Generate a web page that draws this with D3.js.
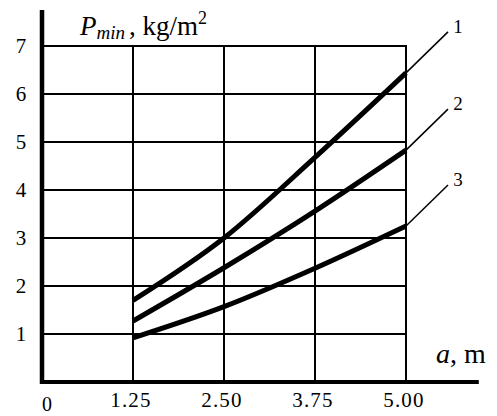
<!DOCTYPE html>
<html>
<head>
<meta charset="utf-8">
<script src="https://cdn.jsdelivr.net/npm/d3@7"></script>
<style>
	body { margin: 0; background: #fff; }
	svg text { font-family: "Liberation Serif", "DejaVu Serif", serif; fill: #000; }
</style>
</head>
<body>
<div class="container"></div>
<script>
// values
var aValues = [1.25, 2.50, 3.75, 5.00];
var curve1 = [1.70, 3.00, 4.68, 6.44];
var curve2 = [1.27, 2.38, 3.56, 4.83];
var curve3 = [0.92, 1.57, 2.37, 3.25];
var curveNames = ["1", "2", "3"];
var yTicks = [1, 2, 3, 4, 5, 6, 7];
var xTickLabels = ["1.25", "2.50", "3.75", "5.00"];

(function() {
	var width = 497, height = 416;
	var svg = d3.select(".container").append("svg")
		.attr("width", width)
		.attr("height", height);

	var x = d3.scaleLinear().domain([0, 5]).range([42, 406]);
	var y = d3.scaleLinear().domain([0, 7]).range([382, 46]);

	// grid
	svg.selectAll("line.vgrid")
		.data(aValues)
		.enter().append("line")
		.attr("class", "vgrid")
		.attr("x1", function(d) { return x(d); })
		.attr("x2", function(d) { return x(d); })
		.attr("y1", y(0))
		.attr("y2", y(7) - 1)
		.style("stroke", "#000")
		.style("stroke-width", 2);

	svg.selectAll("line.hgrid")
		.data(yTicks)
		.enter().append("line")
		.attr("class", "hgrid")
		.attr("x1", x(0))
		.attr("x2", x(5) + 1)
		.attr("y1", function(d) { return y(d); })
		.attr("y2", function(d) { return y(d); })
		.style("stroke", "#000")
		.style("stroke-width", 2);

	// axes
	svg.append("line")
		.attr("x1", x(0)).attr("x2", x(0))
		.attr("y1", y(7.75)).attr("y2", y(0) + 2)
		.style("stroke", "#000")
		.style("stroke-width", 4.5);
	svg.append("line")
		.attr("x1", x(0) - 2).attr("x2", x(6))
		.attr("y1", y(0)).attr("y2", y(0))
		.style("stroke", "#000")
		.style("stroke-width", 4);

	// tick labels
	svg.selectAll("text.ytick")
		.data(yTicks)
		.enter().append("text")
		.attr("class", "ytick")
		.attr("x", 21)
		.attr("y", function(d) { return y(d) + 7; })
		.attr("text-anchor", "middle")
		.attr("font-size", 21)
		.text(function(d) { return d; });

	svg.selectAll("text.xtick")
		.data(aValues)
		.enter().append("text")
		.attr("class", "xtick")
		.attr("x", function(d) { return x(d) - 2; })
		.attr("y", 407)
		.attr("text-anchor", "middle")
		.attr("font-size", 21)
		.attr("letter-spacing", 1.2)
		.text(function(d, i) { return xTickLabels[i]; });

	svg.append("text")
		.attr("x", 47)
		.attr("y", 411)
		.attr("text-anchor", "middle")
		.attr("font-size", 20)
		.text("0");

	// axis titles
	var yt = svg.append("text")
		.attr("x", 80)
		.attr("y", 35)
		.attr("font-size", 27);
	yt.append("tspan").attr("font-style", "italic").text("P");
	yt.append("tspan").attr("font-style", "italic").attr("font-size", 19).attr("dy", 4).text("min");
	yt.append("tspan").attr("dy", -4).attr("dx", 4).text(", kg/m");
	yt.append("tspan").attr("font-size", 18).attr("dy", -11).text("2");

	var xt = svg.append("text")
		.attr("x", 436)
		.attr("y", 363)
		.attr("font-size", 28);
	xt.append("tspan").attr("font-style", "italic").text("a");
	xt.append("tspan").text(", m");

	// curves
	var curves = [curve1, curve2, curve3];
	var line = d3.line()
		.x(function(d) { return x(d[0]); })
		.y(function(d) { return y(d[1]); })
		.curve(d3.curveMonotoneX);

	curves.forEach(function(values, i) {
		var pts = aValues.map(function(a, j) { return [a, values[j]]; });
		svg.append("path")
			.attr("d", line(pts))
			.style("fill", "none")
			.style("stroke", "#000")
			.style("stroke-width", 5);

		// leader and number
		var ex = x(aValues[aValues.length - 1]);
		var ey = y(values[values.length - 1]);
		svg.append("line")
			.attr("x1", ex).attr("y1", ey)
			.attr("x2", ex + 42).attr("y2", ey - 41)
			.style("stroke", "#000")
			.style("stroke-width", 1.5);
		svg.append("text")
			.attr("x", ex + 52)
			.attr("y", ey - 40)
			.attr("text-anchor", "middle")
			.attr("font-size", 19)
			.text(curveNames[i]);
	});
})();
</script>
</body>
</html>
